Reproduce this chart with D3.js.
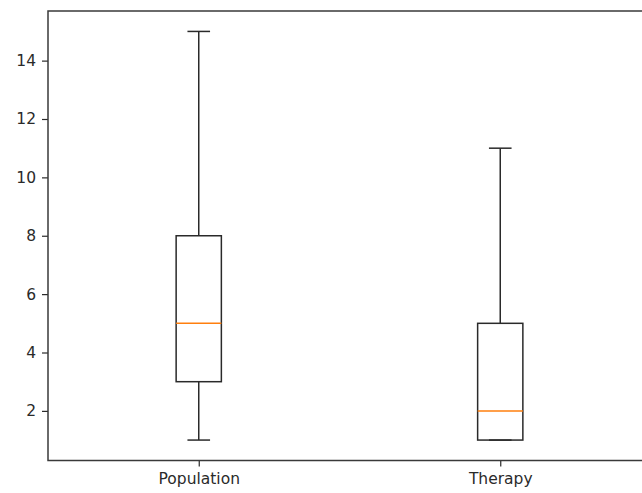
<!DOCTYPE html>
<html>
<head>
<meta charset="utf-8">
<script src="https://cdn.jsdelivr.net/npm/d3@7"></script>
<style>
  html, body { margin: 0; padding: 0; background: #fff; overflow: hidden; }
  svg { display: block; }
</style>
</head>
<body>
<svg id="chart" width="642" height="493"></svg>
<script>
// Box plot summary statistics per group
const categories = ["Population", "Therapy"];
const whiskerLow  = [1, 1];
const q1          = [3, 1];
const median      = [5, 2];
const q3          = [8, 5];
const whiskerHigh = [15, 11];
const yTicks = [2, 4, 6, 8, 10, 12, 14];

const svg = d3.select("#chart");
const plotLeft = 48, plotRight = 651, plotTop = 11, plotBottom = 460.5;

const x = d3.scaleLinear().domain([0.5, 2.5]).range([plotLeft, plotRight]);
const y = d3.scaleLinear().domain([0.3, 15.7]).range([plotBottom, plotTop]);

const lineColor = "#2a2a2a";
const lw = 1.5;
const fontFamily = "'DejaVu Sans', sans-serif";
const boxW = 0.15;          // box width in position units
const capW = boxW / 2;      // whisker cap width

// Axes
const yAxis = d3.axisLeft(y).tickValues(yTicks).tickSize(6).tickPadding(6);
const gy = svg.append("g").attr("transform", `translate(${plotLeft},0)`).call(yAxis);
const xAxis = d3.axisBottom(x).tickValues([1, 2]).tickFormat((d, i) => categories[i]).tickSize(6).tickPadding(6);
const gx = svg.append("g").attr("transform", `translate(0,${plotBottom})`).call(xAxis);

[gy, gx].forEach(g => {
  g.select(".domain").remove();
  g.selectAll(".tick line").attr("stroke", lineColor).attr("stroke-width", 1.2);
  g.selectAll(".tick text").attr("fill", "#2a2a2a").style("font-family", fontFamily).style("font-size", "15.5px");
});

// Boxes
const data = categories.map((c, i) => ({
  pos: i + 1, lo: whiskerLow[i], q1: q1[i], med: median[i], q3: q3[i], hi: whiskerHigh[i]
}));

const boxLayer = svg.append("g");
const groups = boxLayer.selectAll("g.box").data(data).join("g").attr("class", "box");

// whiskers
groups.append("line")
  .attr("x1", d => x(d.pos)).attr("x2", d => x(d.pos))
  .attr("y1", d => y(d.q3)).attr("y2", d => y(d.hi))
  .attr("stroke", lineColor).attr("stroke-width", lw);
groups.append("line")
  .attr("x1", d => x(d.pos)).attr("x2", d => x(d.pos))
  .attr("y1", d => y(d.q1)).attr("y2", d => y(d.lo))
  .attr("stroke", lineColor).attr("stroke-width", lw);

// caps
groups.append("line")
  .attr("x1", d => x(d.pos - capW / 2)).attr("x2", d => x(d.pos + capW / 2))
  .attr("y1", d => y(d.hi)).attr("y2", d => y(d.hi))
  .attr("stroke", lineColor).attr("stroke-width", lw);
groups.append("line")
  .attr("x1", d => x(d.pos - capW / 2)).attr("x2", d => x(d.pos + capW / 2))
  .attr("y1", d => y(d.lo)).attr("y2", d => y(d.lo))
  .attr("stroke", lineColor).attr("stroke-width", lw);

// box body
groups.append("rect")
  .attr("x", d => x(d.pos - boxW / 2))
  .attr("width", d => x(d.pos + boxW / 2) - x(d.pos - boxW / 2))
  .attr("y", d => y(d.q3))
  .attr("height", d => y(d.q1) - y(d.q3))
  .attr("fill", "none").attr("stroke", lineColor).attr("stroke-width", lw);

// median
groups.append("line")
  .attr("x1", d => x(d.pos - boxW / 2)).attr("x2", d => x(d.pos + boxW / 2))
  .attr("y1", d => y(d.med)).attr("y2", d => y(d.med))
  .attr("stroke", "#ff7f0e").attr("stroke-width", lw);

// Frame
svg.append("rect")
  .attr("x", plotLeft).attr("y", plotTop)
  .attr("width", plotRight - plotLeft).attr("height", plotBottom - plotTop)
  .attr("fill", "none").attr("stroke", "#3a3a3a").attr("stroke-width", 1.5);
</script>
</body>
</html>
